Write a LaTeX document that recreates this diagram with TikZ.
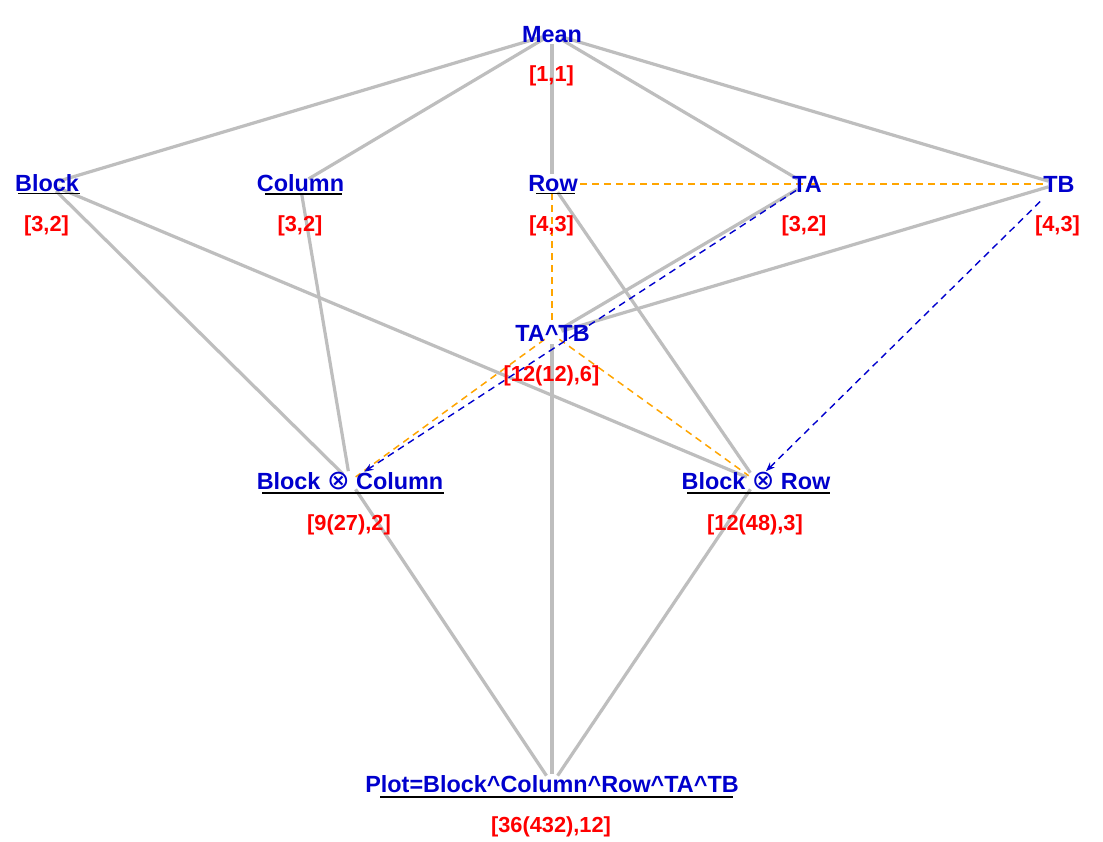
\documentclass[tikz,border=0pt]{standalone}
\usepackage{fontspec}
\setmainfont{Liberation Sans}
\newfontfamily\dejavu{DejaVu Sans}
\usetikzlibrary{arrows.meta}
\definecolor{tblue}{RGB}{0,0,205}
\definecolor{tred}{RGB}{255,0,0}
\definecolor{egray}{RGB}{190,190,190}
\definecolor{eorange}{RGB}{255,165,0}
\newcommand{\otimesglyph}{{\dejavu\mdseries\fontsize{27}{27}\selectfont\char"2297}}
\begin{document}
\begin{tikzpicture}[x=1pt,y=-1pt,
  gedge/.style={draw=egray,line width=3.2pt,shorten <=10pt,shorten >=10pt},
  oedge/.style={draw=eorange,line width=1.5pt,dash pattern=on 7pt off 5pt},
  bedge/.style={draw=tblue,line width=1.4pt,dash pattern=on 7pt off 5pt,-{Stealth[length=9pt,width=7pt]}},
  lab/.style={text=tblue,font=\bfseries\fontsize{23.4}{23.4}\selectfont,anchor=base,inner sep=0pt},
  num/.style={text=tred,font=\bfseries\fontsize{21.8}{21.8}\selectfont,anchor=base,inner sep=0pt},
  uline/.style={draw=black,line width=1.3pt}]
\useasboundingbox[fill=white] (0,0) rectangle (1103,841);
% vertices
\coordinate (vMean) at (552,34);
\coordinate (vBlock) at (49,184);
\coordinate (vColumn) at (300,184);
\coordinate (vRow) at (552,184);
\coordinate (vTA) at (806,184);
\coordinate (vTB) at (1058,184);
\coordinate (vTATB) at (552,334);
\coordinate (vBC) at (350,481);
\coordinate (vBR) at (756,481);
\coordinate (vPlot) at (552,784);
% gray edges
\draw[gedge] (vMean) -- (vBlock);
\draw[gedge] (vMean) -- (vColumn);
\draw[gedge] (vMean) -- (vRow);
\draw[gedge] (vMean) -- (vTA);
\draw[gedge] (vMean) -- (vTB);
\draw[gedge] (vBlock) -- (vBC);
\draw[gedge] (vBlock) -- (vBR);
\draw[gedge] (vColumn) -- (vBC);
\draw[gedge] (vRow) -- (vBR);
\draw[gedge] (vTA) -- (vTATB);
\draw[gedge] (vTB) -- (vTATB);
\draw[gedge] (vTATB) -- (vPlot);
\draw[gedge] (vBC) -- (vPlot);
\draw[gedge] (vBR) -- (vPlot);
% orange dashed edges
\draw[oedge,shorten <=28pt,shorten >=13pt] (vRow) -- (vTB);
\draw[oedge,shorten <=9pt,shorten >=12pt] (vRow) -- (vTATB);
\draw[oedge,shorten <=9pt,shorten >=7pt] (vTATB) -- (vBC);
\draw[oedge,shorten <=9pt,shorten >=9pt] (vTATB) -- (vBR);
% blue dashed arrows
\draw[bedge,shorten <=12pt,shorten >=17pt] (vTA) -- (vBC);
\draw[bedge,shorten <=25pt,shorten >=14pt] (vTB) -- (vBR);
% labels
\node[lab] (Mean) at (552,42) {Mean};
\node[num] (nMean) at (551.5,81) {[1,1]};
\node[lab] (Block) at (47,191) {Block};
\node[num] (nBlock) at (46.5,231) {[3,2]};
\node[lab] (Column) at (300.5,191) {Column};
\node[num] (nColumn) at (300,231) {[3,2]};
\node[lab] (Row) at (553,191) {Row};
\node[num] (nRow) at (551.5,231) {[4,3]};
\node[lab] (TA) at (807,192) {TA};
\node[num] (nTA) at (804,231) {[3,2]};
\node[lab] (TB) at (1059,192) {TB};
\node[num] (nTB) at (1057.5,231) {[4,3]};
\node[lab] (TATB) at (552.5,341) {TA\^{}TB};
\node[num] (nTATB) at (551.5,381) {[12(12),6]};
\node[lab] (BC) at (350,489) {Block \otimesglyph{} Column};
\node[num] (nBC) at (349,530) {[9(27),2]};
\node[lab] (BR) at (756,489) {Block \otimesglyph{} Row};
\node[num] (nBR) at (755,530) {[12(48),3]};
\node[lab] (Plot) at (552,792) {Plot=Block\^{}Column\^{}Row\^{}TA\^{}TB};
\node[num] (nPlot) at (551,832) {[36(432),12]};
% underlines
\draw[uline] (18,193.5) -- (80,193.5);
\draw[uline] (265,194) -- (342,194);
\draw[uline] (536,193.5) -- (575,193.5);
\draw[uline] (262,493) -- (444,493);
\draw[uline] (687,493) -- (830,493);
\draw[uline] (380,797) -- (733,797);
\end{tikzpicture}
\end{document}
